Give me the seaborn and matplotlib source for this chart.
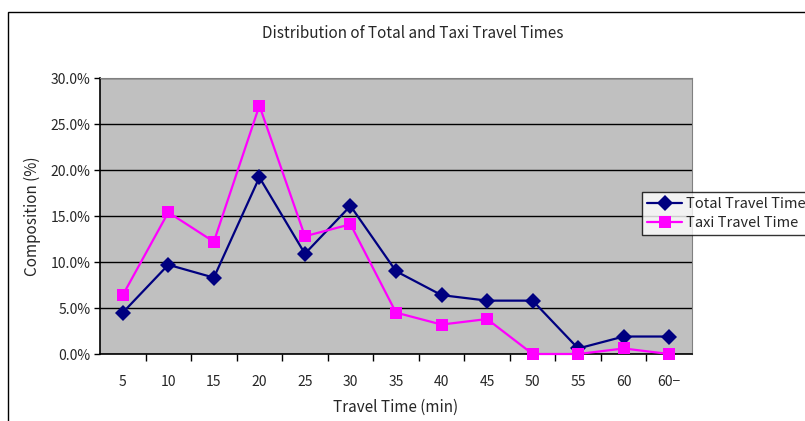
import matplotlib
matplotlib.use("Agg")
import matplotlib.pyplot as plt
from matplotlib.patches import Rectangle
from matplotlib.ticker import FuncFormatter, MultipleLocator
import seaborn as sns
import pandas as pd

categories = ["5", "10", "15", "20", "25", "30", "35", "40", "45", "50", "55", "60", "60\u2212"]
total_travel = [4.5, 9.7, 8.3, 19.2, 10.9, 16.1, 9.0, 6.4, 5.8, 5.8, 0.6, 1.9, 1.9]
taxi_travel = [6.4, 15.4, 12.2, 27.0, 12.8, 14.1, 4.5, 3.2, 3.8, 0.0, 0.0, 0.6, 0.0]

sns.set_theme(style="white")
plt.rcParams["font.family"] = ["Noto Sans CJK JP", "DejaVu Sans"]

pos = list(range(len(categories)))
df = pd.DataFrame({
    "pos": pos * 2,
    "value": total_travel + taxi_travel,
    "series": ["Total Travel Time"] * len(pos) + ["Taxi Travel Time"] * len(pos),
})

fig = plt.figure(figsize=(8.05, 4.21), dpi=100)
ax = fig.add_axes([100 / 805, 1 - 354 / 421, 592 / 805, 276 / 421])
ax.set_facecolor("#C0C0C0")

# outer chart frame
fig.patches.append(Rectangle((8 / 805, -0.1), 1.2, 1 - 12 / 421 + 0.1,
                             transform=fig.transFigure, fill=False,
                             edgecolor="black", linewidth=1.0, zorder=0))

palette = {"Total Travel Time": "#000080", "Taxi Travel Time": "#FF00FF"}
markers = {"Total Travel Time": "D", "Taxi Travel Time": "s"}
sns.lineplot(data=df, x="pos", y="value", hue="series", style="series",
             palette=palette, markers=markers, dashes=False, markersize=8,
             markeredgewidth=0, linewidth=1.6, ax=ax, legend=True, clip_on=False,
             zorder=3)

ax.set_xlim(-0.5, len(categories) - 0.5)
ax.set_ylim(0, 30)
ax.yaxis.set_major_locator(MultipleLocator(5))
ax.yaxis.set_major_formatter(FuncFormatter(lambda v, p: f"{v:.1f}%"))
ax.grid(axis="y", color="black", linewidth=1.0)
ax.set_axisbelow(True)

ax.set_xticks([p + 0.5 for p in pos[:-1]], minor=False)
ax.set_xticklabels([])
ax.set_xticks(pos, minor=True)
ax.set_xticklabels(categories, minor=True)
ax.tick_params(axis="x", which="major", direction="out", length=5, width=1, color="black", bottom=True)
ax.tick_params(axis="x", which="minor", length=0, pad=15, labelsize=10)
ax.tick_params(axis="y", direction="out", length=4, width=1, color="black", left=True, labelsize=10, pad=3)

for side in ["left", "bottom"]:
    ax.spines[side].set_color("black")
    ax.spines[side].set_linewidth(1.2)
ax.spines["top"].set_color("#808080")
ax.spines["right"].set_color("#808080")
ax.spines["top"].set_linewidth(0.8)
ax.spines["right"].set_linewidth(0.8)

ax.set_xlabel("Travel Time (min)", fontsize=11, labelpad=7)
ax.set_ylabel("Composition (%)", fontsize=11, labelpad=7)
fig.text(413 / 805, 1 - 34 / 421, "Distribution of Total and Taxi Travel Times",
         ha="center", va="center", fontsize=11)

handles, labels = ax.get_legend_handles_labels()
ax.legend_.remove()
leg = fig.legend(handles, labels, loc="upper left",
                 bbox_to_anchor=(642 / 805, 1 - 192 / 421),
                 frameon=True, fancybox=False, edgecolor="black",
                 fontsize=10.5, borderaxespad=0, borderpad=0.35,
                 handlelength=2.4, handletextpad=0.3, labelspacing=0.35)
leg.get_frame().set_linewidth(1.0)

fig.savefig("out.png", dpi=100)
